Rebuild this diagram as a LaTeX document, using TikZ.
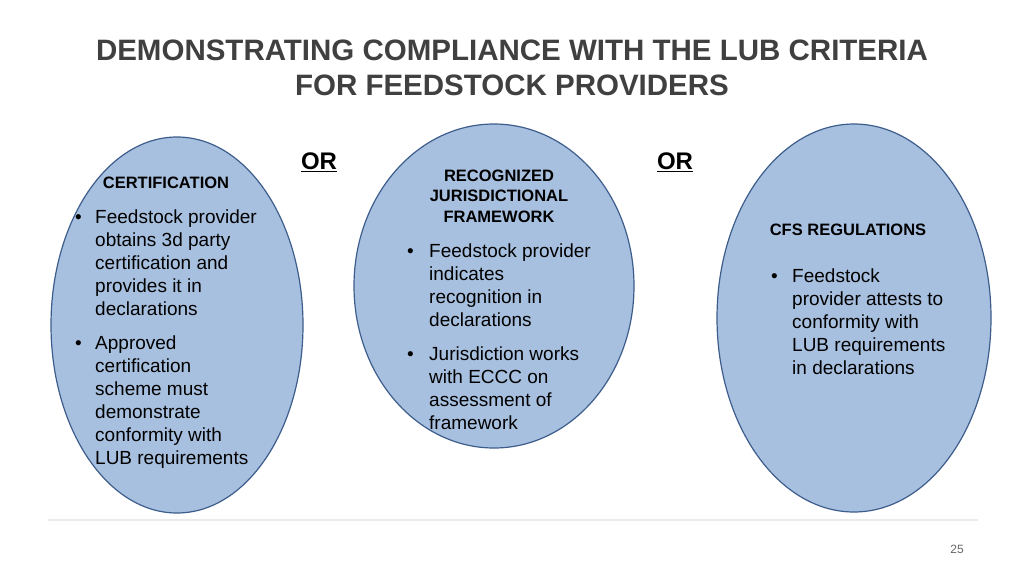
\documentclass[tikz,border=0pt]{standalone}
\usepackage{fontspec}
\setmainfont{Liberation Sans}
\begin{document}
\begin{tikzpicture}[x=1pt,y=-1pt,
  ell/.style={draw=ebord,fill=efill,line width=1.2pt},
  hd/.style={font=\fontsize{16.5}{21}\selectfont\bfseries,text=black,align=center},
  bt/.style={font=\fontsize{19}{23}\selectfont,anchor=north west,align=left,inner sep=0pt},
  bl/.style={font=\fontsize{19}{23}\selectfont,anchor=north west,inner sep=0pt}]
\definecolor{efill}{HTML}{A8C0DF}
\definecolor{ebord}{HTML}{3D5D8C}
\definecolor{tgray}{HTML}{404040}
\useasboundingbox (0,0) rectangle (1024,576);
\fill[white] (0,0) rectangle (1024,576);
\node[font=\fontsize{29.5}{35}\selectfont\bfseries,text=tgray,align=center] (title) at (512,68) {DEMONSTRATING COMPLIANCE WITH THE LUB CRITERIA\\FOR FEEDSTOCK PROVIDERS};
\draw[ell] (177,325) ellipse [x radius=126,y radius=188];
\draw[ell] (494,286) ellipse [x radius=140,y radius=162];
\draw[ell] (854,318) ellipse [x radius=137,y radius=194];
\node[font=\fontsize{24}{28}\selectfont\bfseries] (or1) at (319,162) {\underline{OR}};
\node[font=\fontsize{24}{28}\selectfont\bfseries] (or2) at (675,162) {\underline{OR}};
\node[hd] (h1) at (166,183) {CERTIFICATION};
\node[bl] (b1) at (75,207) {\strut•};
\node[bt] (t1) at (95,207) {\strut Feedstock provider\\obtains 3d party\\certification and\\provides it in\\declarations};
\node[bl] (b2) at (75,333) {\strut•};
\node[bt] (t2) at (95,333) {\strut Approved\\certification\\scheme must\\demonstrate\\conformity with\\LUB requirements};
\node[hd,font=\fontsize{16.5}{20.5}\selectfont\bfseries] (h2) at (499,196) {RECOGNIZED\\JURISDICTIONAL\\FRAMEWORK};
\node[bl] (b3) at (407,241) {\strut•};
\node[bt] (t3) at (429,241) {\strut Feedstock provider\\indicates\\recognition in\\declarations};
\node[bl] (b4) at (407,344) {\strut•};
\node[bt] (t4) at (429,344) {\strut Jurisdiction works\\with ECCC on\\assessment of\\framework};
\node[hd] (h3) at (848,230) {CFS REGULATIONS};
\node[bl] (b5) at (771,266) {\strut•};
\node[bt] (t5) at (792,266) {\strut Feedstock\\provider attests to\\conformity with\\LUB requirements\\in declarations};
\draw[black!8,line width=2pt] (48,520) -- (978,520);
\node[font=\fontsize{12}{14}\selectfont,text=black!60] (pg) at (957,549) {25};
\end{tikzpicture}
\end{document}
